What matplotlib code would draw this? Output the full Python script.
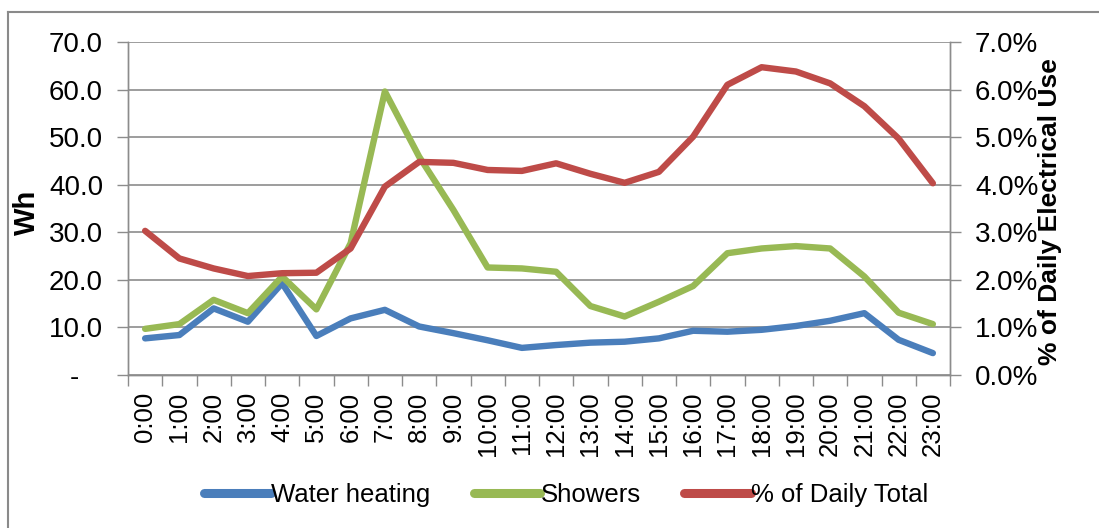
import matplotlib
matplotlib.use("Agg")
import matplotlib.pyplot as plt
from matplotlib.lines import Line2D
from matplotlib.ticker import FuncFormatter, MultipleLocator

plt.rcParams['font.family'] = ['Liberation Sans', 'DejaVu Sans']

hours = [f"{h}:00" for h in range(24)]
water_heating = [7.7, 8.4, 14.0, 11.2, 19.3, 8.2, 11.9, 13.7, 10.2, 8.8, 7.3, 5.7,
                 6.3, 6.8, 7.0, 7.7, 9.3, 9.1, 9.5, 10.3, 11.4, 13.0, 7.4, 4.6]
showers = [9.7, 10.7, 15.8, 13.0, 20.7, 13.8, 27.7, 59.6, 45.9, 34.7, 22.6, 22.4,
           21.7, 14.5, 12.3, 15.4, 18.7, 25.6, 26.6, 27.1, 26.6, 20.7, 13.1, 10.7]
pct_daily = [3.03, 2.45, 2.24, 2.08, 2.14, 2.15, 2.66, 3.96, 4.48, 4.46, 4.31, 4.29,
             4.45, 4.23, 4.04, 4.27, 5.01, 6.10, 6.47, 6.38, 6.13, 5.65, 4.97, 4.03]

c_blue = "#4a7ebb"
c_green = "#98b954"
c_red = "#be4b48"
grid_c = "#8c8c8c"

fig = plt.figure(figsize=(10.99, 5.28), dpi=100)
ax = fig.add_axes([128/1099, 1-375/528, (950-128)/1099, (375-42)/528])
ax2 = ax.twinx()

x = list(range(24))
lw = 4.6
ax.plot(x, water_heating, color=c_blue, lw=lw, solid_capstyle='round', solid_joinstyle='round', zorder=3)
ax.plot(x, showers, color=c_green, lw=lw, solid_capstyle='round', solid_joinstyle='round', zorder=3)
ax2.plot(x, pct_daily, color=c_red, lw=lw, solid_capstyle='round', solid_joinstyle='round', zorder=3)

ax.set_xlim(-0.5, 23.5)
ax.set_ylim(0, 70)
ax2.set_ylim(0, 7)
ax.yaxis.set_major_locator(MultipleLocator(10))
ax2.yaxis.set_major_locator(MultipleLocator(1))
ax.yaxis.set_major_formatter(FuncFormatter(lambda v, p: "-   " if abs(v) < 1e-9 else f"{v:.1f}"))
ax2.yaxis.set_major_formatter(FuncFormatter(lambda v, p: f"{v:.1f}%"))

ax.set_xticks(x)
ax.set_xticklabels(hours, rotation=90, fontsize=18.5)
ax.set_xticks([i - 0.5 for i in range(25)], minor=True)
ax.tick_params(axis='x', which='major', length=0, pad=12)
ax.tick_params(axis='x', which='minor', length=8, color=grid_c, width=1)

ax.tick_params(axis='y', length=8, color=grid_c, width=1, labelsize=20, pad=10)
ax2.tick_params(axis='y', length=8, color=grid_c, width=1, labelsize=20, pad=10)

ax.grid(axis='y', color=grid_c, lw=1.2)
ax.set_axisbelow(True)
for a in (ax, ax2):
    a.spines['top'].set_visible(False)
    for s in ['left', 'right', 'bottom']:
        a.spines[s].set_color(grid_c)
        a.spines[s].set_linewidth(1)

fig.text(27/1099, 1-212/528, "Wh", rotation=90, fontsize=21, fontweight='bold', ha='center', va='center')
fig.text(1050/1099, 1-212/528, "% of Daily Electrical Use", rotation=90, fontsize=19,
         fontweight='bold', ha='center', va='center')

handles = [Line2D([], [], color=c_blue, lw=6.5, solid_capstyle='round'),
           Line2D([], [], color=c_green, lw=6.5, solid_capstyle='round'),
           Line2D([], [], color=c_red, lw=6.5, solid_capstyle='round')]
fig.legend(handles, ["Water heating", "Showers", "% of Daily Total"], loc='center',
           bbox_to_anchor=(566/1099, 1-495/528), ncol=3, frameon=False, fontsize=18.5,
           handlelength=2.6, handletextpad=0.0, columnspacing=1.7)

fig.add_artist(Line2D([8/1099, 1], [1-12/528, 1-12/528], color="#8a8a8a", lw=1.5))
fig.add_artist(Line2D([8/1099, 8/1099], [1-12/528, 0], color="#8a8a8a", lw=1.5))

fig.savefig("out.png", dpi=100)
